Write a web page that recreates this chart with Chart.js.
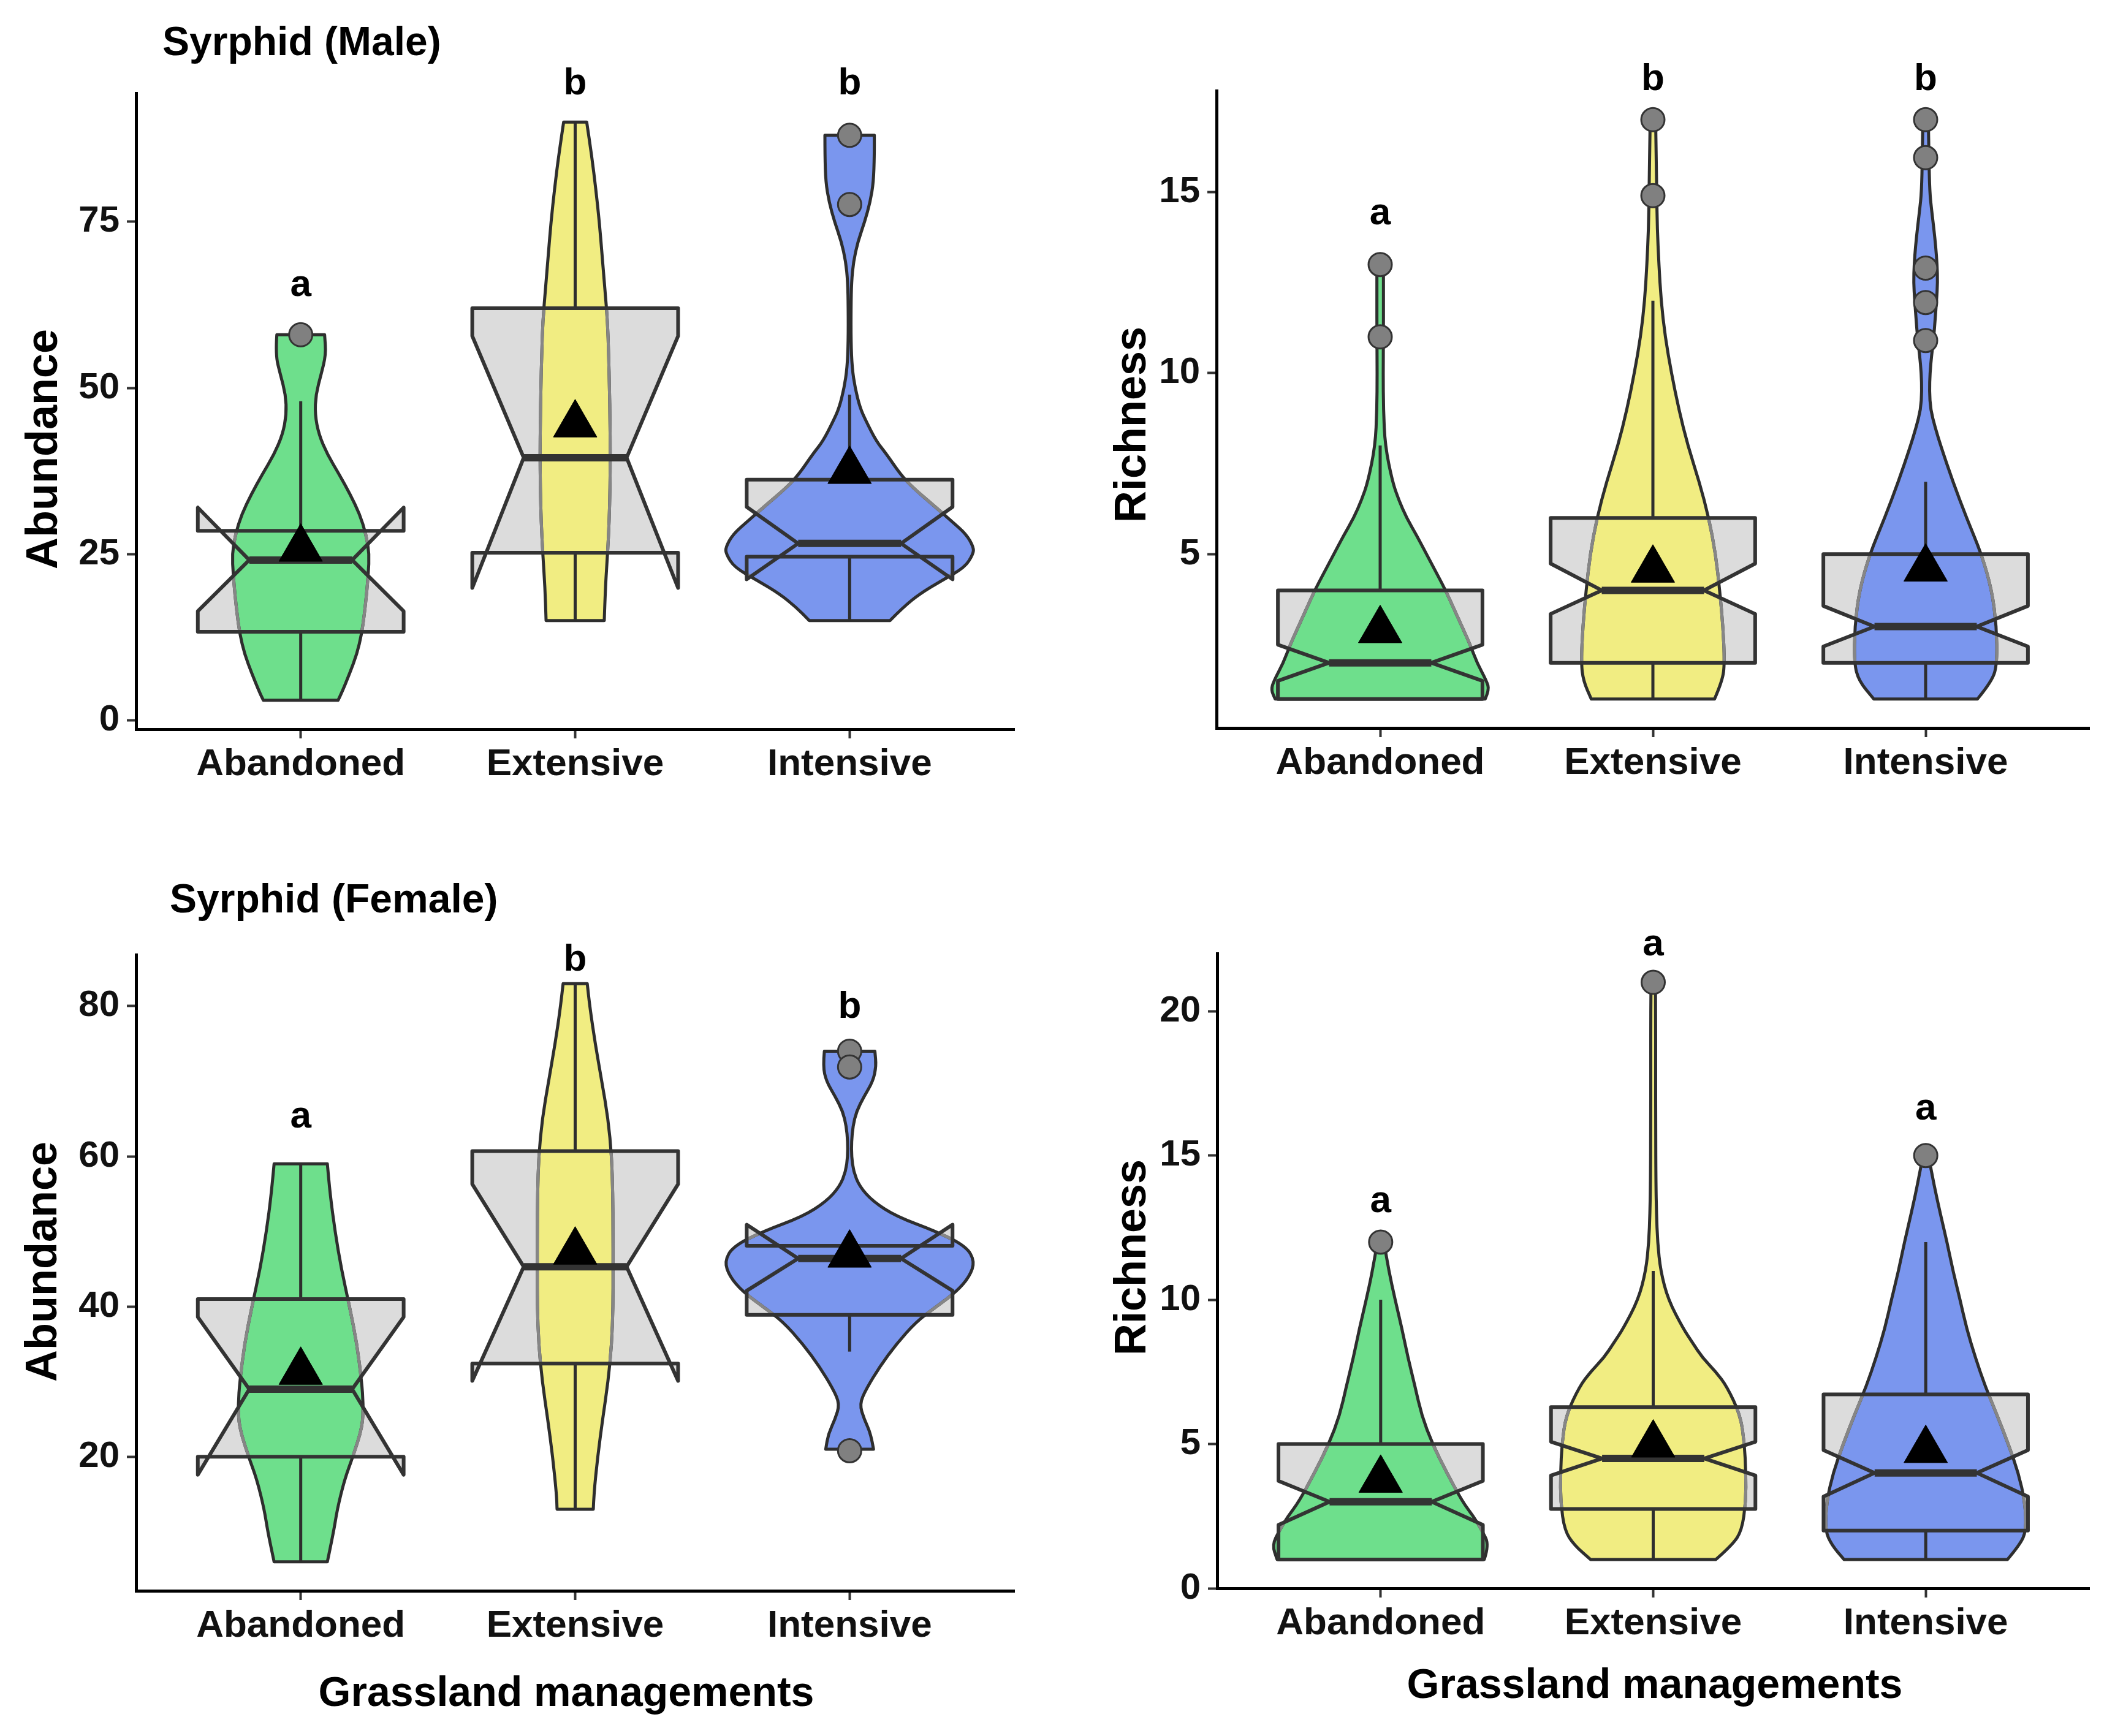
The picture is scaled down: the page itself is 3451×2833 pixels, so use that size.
<!DOCTYPE html>
<html>
<head>
<meta charset="utf-8">
<script src="https://cdn.jsdelivr.net/npm/chart.js@4.4.1/dist/chart.umd.min.js"></script>
<style>
html, body { margin: 0; padding: 0; background: #fff; }
#wrap { position: relative; width: 3451px; height: 2833px; overflow: hidden; background: #fff; }
canvas { position: absolute; }
</style>
</head>
<body>
<div id="wrap">
  <canvas id="c1" width="1725" height="1400" style="left:0px;top:0px"></canvas>
  <canvas id="c2" width="1726" height="1400" style="left:1725px;top:0px"></canvas>
  <canvas id="c3" width="1725" height="1433" style="left:0px;top:1400px"></canvas>
  <canvas id="c4" width="1726" height="1433" style="left:1725px;top:1400px"></canvas>
</div>
<script>
// categories shared by all panels
const categories = ['Abandoned', 'Extensive', 'Intensive'];

// ---- Syrphid (Male) abundance ----
const maleAbTicks = [0, 25, 50, 75];
const maleAbQ1 = [13.3, 25.2, 24.6];
const maleAbMedian = [24.1, 39.5, 26.6];
const maleAbQ3 = [28.5, 62, 36.2];
const maleAbNotchLo = [16.4, 19.9, 21.2];
const maleAbNotchHi = [32, 57.8, 32.1];
const maleAbWhiskerLo = [3, 15, 15];
const maleAbWhiskerHi = [48, 90, 49];
const maleAbMean = [25.8, 44.5, 37.5];
const maleAbOutliers = [[58], [], [88, 77.6]];
const maleAbLetters = ['a', 'b', 'b'];
const maleAbLetterY = [65.4, 95.7, 95.7];
// violin profiles: [value, half width in category units]
const maleAbViolin = [
  [[58, 0.087], [55, 0.092], [52, 0.074], [49, 0.055], [46, 0.052], [43, 0.066], [40, 0.097], [37, 0.14], [34, 0.18], [31, 0.215], [28, 0.238], [25, 0.25], [22, 0.246], [19, 0.24], [16, 0.232], [13, 0.222], [10, 0.205], [7, 0.178], [4, 0.148], [3, 0.136]],
  [[90, 0.042], [85, 0.06], [80, 0.075], [75, 0.088], [70, 0.098], [65, 0.108], [60, 0.118], [55, 0.122], [50, 0.125], [45, 0.127], [40, 0.128], [35, 0.127], [30, 0.124], [25, 0.118], [20, 0.11], [15, 0.106]],
  [[88, 0.09], [85, 0.09], [81, 0.087], [78, 0.075], [75, 0.055], [72, 0.03], [69, 0.014], [66, 0.007], [62, 0.005], [57, 0.005], [53, 0.009], [50, 0.02], [47, 0.038], [45, 0.06], [42, 0.097], [40, 0.135], [37, 0.185], [35, 0.23], [32, 0.315], [30, 0.37], [28, 0.425], [26, 0.452], [25, 0.45], [23, 0.42], [21, 0.335], [19, 0.255], [17, 0.195], [15, 0.147]]
];

// ---- Syrphid (Male) richness ----
const maleRiTicks = [5, 10, 15];
const maleRiQ1 = [1, 2, 2];
const maleRiMedian = [2, 4, 3];
const maleRiQ3 = [4, 6, 5];
const maleRiNotchLo = [1.5, 3.35, 2.45];
const maleRiNotchHi = [2.5, 4.74, 3.57];
const maleRiWhiskerLo = [1, 1, 1];
const maleRiWhiskerHi = [8, 12, 7];
const maleRiMean = [2.9, 4.57, 4.6];
const maleRiOutliers = [[13, 11], [17, 14.9], [17, 15.95, 12.9, 11.95, 10.9]];
const maleRiLetters = ['a', 'b', 'b'];
const maleRiLetterY = [14.4, 18.1, 18.1];
const maleRiViolin = [
  [[13, 0.012], [12, 0.012], [11, 0.012], [10, 0.011], [9, 0.012], [8, 0.018], [7, 0.045], [6.5, 0.068], [6, 0.097], [5.5, 0.135], [5, 0.17], [4.5, 0.205], [4, 0.24], [3.5, 0.27], [3, 0.3], [2.5, 0.33], [2, 0.355], [1.5, 0.39], [1.25, 0.4], [1, 0.385]],
  [[17, 0.01], [16, 0.012], [15, 0.014], [14, 0.016], [13, 0.022], [12, 0.03], [11, 0.045], [10, 0.068], [9, 0.095], [8, 0.128], [7, 0.17], [6, 0.205], [5, 0.23], [4, 0.245], [3, 0.257], [2, 0.263], [1.5, 0.255], [1, 0.226]],
  [[17, 0.01], [16, 0.012], [15, 0.015], [14.5, 0.022], [14, 0.03], [13.5, 0.037], [13, 0.042], [12.5, 0.044], [12, 0.04], [11.5, 0.035], [11, 0.03], [10.5, 0.022], [10, 0.016], [9.5, 0.014], [9, 0.018], [8.5, 0.035], [8, 0.055], [7, 0.1], [6, 0.15], [5, 0.205], [4, 0.243], [3, 0.26], [2, 0.262], [1.5, 0.245], [1, 0.19]]
];

// ---- Syrphid (Female) abundance ----
const femaleAbTicks = [20, 40, 60, 80];
const femaleAbQ1 = [20, 32.4, 38.9];
const femaleAbMedian = [29, 45.3, 46.4];
const femaleAbQ3 = [41, 60.7, 48.1];
const femaleAbNotchLo = [17.6, 30.1, 42.1];
const femaleAbNotchHi = [38.6, 56.3, 50.9];
const femaleAbWhiskerLo = [6, 13, 34];
const femaleAbWhiskerHi = [59, 83, 48.1];
const femaleAbMean = [31.3, 47.3, 46.9];
const femaleAbOutliers = [[], [], [74, 71.9, 20.8]];
const femaleAbLetters = ['a', 'b', 'b'];
const femaleAbLetterY = [65.2, 86.1, 79.8];
const femaleAbViolin = [
  [[59, 0.097], [55, 0.107], [50, 0.125], [45, 0.148], [40, 0.178], [35, 0.205], [30, 0.222], [27, 0.228], [24, 0.225], [20, 0.19], [17, 0.16], [13, 0.133], [10, 0.12], [6, 0.097]],
  [[83, 0.044], [80, 0.053], [75, 0.073], [70, 0.097], [65, 0.12], [60, 0.133], [55, 0.137], [50, 0.138], [45, 0.138], [40, 0.138], [35, 0.133], [30, 0.12], [25, 0.1], [20, 0.082], [15, 0.068], [13, 0.066]],
  [[74, 0.092], [72, 0.097], [70, 0.085], [68, 0.053], [66, 0.025], [64, 0.012], [62, 0.007], [60, 0.007], [58, 0.014], [56, 0.036], [54, 0.085], [52, 0.17], [50, 0.316], [48, 0.425], [46, 0.456], [44, 0.437], [42, 0.39], [40, 0.316], [38, 0.243], [35, 0.17], [32, 0.11], [29, 0.06], [27, 0.036], [25, 0.053], [23, 0.078], [21, 0.087]]
];

// ---- Syrphid (Female) richness ----
const femaleRiTicks = [0, 5, 10, 15, 20];
const femaleRiQ1 = [1, 2.75, 2];
const femaleRiMedian = [3, 4.5, 4];
const femaleRiQ3 = [5, 6.28, 6.72];
const femaleRiNotchLo = [2.2, 3.91, 3.18];
const femaleRiNotchHi = [3.72, 5.08, 4.79];
const femaleRiWhiskerLo = [1, 1, 1];
const femaleRiWhiskerHi = [10, 11, 12];
const femaleRiMean = [3.76, 4.98, 4.79];
const femaleRiOutliers = [[12], [21], [15]];
const femaleRiLetters = ['a', 'a', 'a'];
const femaleRiLetterY = [13.4, 22.3, 16.6];
const femaleRiViolin = [
  [[12, 0.012], [11, 0.03], [10, 0.053], [9, 0.078], [8, 0.1], [7, 0.126], [6, 0.15], [5, 0.19], [4, 0.243], [3, 0.3], [2.5, 0.34], [2, 0.372], [1.5, 0.398], [1, 0.38]],
  [[21, 0.008], [20, 0.009], [18, 0.009], [16, 0.009], [14, 0.01], [13, 0.012], [12, 0.016], [11, 0.027], [10, 0.055], [9, 0.11], [8.5, 0.145], [8, 0.18], [7.5, 0.23], [7, 0.27], [6, 0.32], [5, 0.335], [4, 0.34], [3, 0.34], [2, 0.325], [1.5, 0.29], [1, 0.23]],
  [[15, 0.01], [14, 0.03], [13, 0.053], [12, 0.078], [11, 0.1], [10, 0.126], [9, 0.15], [8, 0.182], [7, 0.218], [6, 0.262], [5, 0.303], [4, 0.34], [3, 0.364], [2, 0.369], [1.5, 0.345], [1, 0.3]]
];

const fillColors = ['#6EDF8C', '#F1ED82', '#7A96EE'];
const FONT = "'Liberation Sans', Arial, sans-serif";
const BOX_HALF = 0.375;      // box width 0.75
const NOTCH_INNER = 0.1875;  // notch width 0.5

function addSide(path, pts) {
  path.lineTo(pts[0][0], pts[0][1]);
  for (let i = 1; i < pts.length - 1; i++) {
    const mx = (pts[i][0] + pts[i + 1][0]) / 2;
    const my = (pts[i][1] + pts[i + 1][1]) / 2;
    path.quadraticCurveTo(pts[i][0], pts[i][1], mx, my);
  }
  const last = pts[pts.length - 1];
  path.lineTo(last[0], last[1]);
}

function violinPath(prof, cx, unit, y) {
  const left = prof.map(([v, w]) => [cx - w * unit, y.getPixelForValue(v)]);
  const right = prof.map(([v, w]) => [cx + w * unit, y.getPixelForValue(v)]).reverse();
  const p = new Path2D();
  p.moveTo(left[0][0], left[0][1]);
  addSide(p, left);
  addSide(p, right);
  p.closePath();
  return p;
}

function boxPath(cx, unit, Y, q1, med, q3, nlo, nhi) {
  const x0 = cx - BOX_HALF * unit, x1 = cx + BOX_HALF * unit;
  const i0 = cx - NOTCH_INNER * unit, i1 = cx + NOTCH_INNER * unit;
  const p = new Path2D();
  p.moveTo(x0, Y(q1));
  p.lineTo(x0, Y(nlo));
  p.lineTo(i0, Y(med));
  p.lineTo(x0, Y(nhi));
  p.lineTo(x0, Y(q3));
  p.lineTo(x1, Y(q3));
  p.lineTo(x1, Y(nhi));
  p.lineTo(i1, Y(med));
  p.lineTo(x1, Y(nlo));
  p.lineTo(x1, Y(q1));
  p.closePath();
  return p;
}

// violins + notched boxes, drawn through the chart scales
const violinBoxPlugin = {
  id: 'violinBox',
  beforeDatasetsDraw(chart) {
    const d = chart.options.plugins.violinBox;
    const { ctx } = chart;
    const x = chart.scales.x, y = chart.scales.y;
    const Y = v => y.getPixelForValue(v);
    const unit = x.getPixelForValue(2) - x.getPixelForValue(1);
    ctx.save();
    ctx.lineJoin = 'round';
    for (let i = 0; i < categories.length; i++) {
      const cx = x.getPixelForValue(i + 1);
      const bp = boxPath(cx, unit, Y, d.q1[i], d.med[i], d.q3[i], d.nlo[i], d.nhi[i]);
      ctx.fillStyle = '#DCDCDC';
      ctx.fill(bp);

      const vp = violinPath(d.violin[i], cx, unit, y);
      ctx.fillStyle = fillColors[i];
      ctx.fill(vp);
      ctx.strokeStyle = '#2e2e2e';
      ctx.lineWidth = 5;
      ctx.stroke(vp);
      ctx.save();
      ctx.clip(bp);
      ctx.strokeStyle = '#868686';
      ctx.stroke(vp);
      ctx.restore();

      // whiskers
      ctx.strokeStyle = '#2e2e2e';
      ctx.lineWidth = 5;
      ctx.beginPath();
      ctx.moveTo(cx, Y(d.q3[i])); ctx.lineTo(cx, Y(d.whHi[i]));
      ctx.moveTo(cx, Y(d.q1[i])); ctx.lineTo(cx, Y(d.whLo[i]));
      ctx.stroke();

      ctx.strokeStyle = '#333333';
      ctx.lineWidth = 6;
      ctx.stroke(bp);

      // median
      ctx.lineWidth = 12;
      ctx.lineCap = 'butt';
      ctx.beginPath();
      ctx.moveTo(cx - NOTCH_INNER * unit, Y(d.med[i]));
      ctx.lineTo(cx + NOTCH_INNER * unit, Y(d.med[i]));
      ctx.stroke();
    }
    ctx.restore();
  }
};

// titles, axis titles and group letters
const textPlugin = {
  id: 'panelText',
  afterDraw(chart) {
    const t = chart.options.plugins.panelText;
    const { ctx } = chart;
    const x = chart.scales.x, y = chart.scales.y;
    ctx.save();
    ctx.fillStyle = '#000';
    ctx.textBaseline = 'middle';
    if (t.title) {
      ctx.font = 'bold 66px ' + FONT;
      ctx.textAlign = 'left';
      ctx.fillText(t.title, t.titleX, t.titleY);
    }
    ctx.font = 'bold 62px ' + FONT;
    ctx.textAlign = 'center';
    t.letters.forEach((l, i) => {
      ctx.fillText(l, x.getPixelForValue(i + 1), y.getPixelForValue(t.letterY[i]));
    });
    if (t.xTitle) {
      ctx.font = 'bold 68px ' + FONT;
      ctx.fillText(t.xTitle, t.xTitleX, t.xTitleY);
    }
    ctx.translate(t.yTitleX, t.yTitleY);
    ctx.rotate(-Math.PI / 2);
    ctx.font = 'bold 72px ' + FONT;
    ctx.fillText(t.yTitle, 0, 0);
    ctx.restore();
  }
};

function makePanel(cfg) {
  const canvas = document.getElementById(cfg.id);
  const meanPts = cfg.mean.map((m, i) => ({ x: i + 1, y: m }));
  const outPts = [];
  cfg.outliers.forEach((arr, i) => arr.forEach(v => outPts.push({ x: i + 1, y: v })));
  new Chart(canvas.getContext('2d'), {
    type: 'scatter',
    data: {
      datasets: [
        { data: meanPts, pointStyle: 'triangle', pointRadius: 41, backgroundColor: '#000', borderColor: '#000', borderWidth: 1, order: 1, clip: false },
        { data: outPts, pointStyle: 'circle', pointRadius: 19, backgroundColor: '#808080', borderColor: '#333', borderWidth: 3, order: 2, clip: false }
      ]
    },
    options: {
      responsive: false,
      devicePixelRatio: 1,
      animation: false,
      layout: { padding: cfg.padding },
      plugins: {
        legend: { display: false },
        tooltip: { enabled: false },
        violinBox: {
          q1: cfg.q1, med: cfg.med, q3: cfg.q3, nlo: cfg.nlo, nhi: cfg.nhi,
          whLo: cfg.whLo, whHi: cfg.whHi, violin: cfg.violin
        },
        panelText: cfg.text
      },
      scales: {
        x: {
          type: 'linear', min: 0.4, max: 3.6,
          afterBuildTicks: s => { s.ticks = categories.map((c, i) => ({ value: i + 1 })); },
          afterFit: s => { s.height = 120; },
          ticks: {
            callback: v => categories[v - 1], autoSkip: false, maxRotation: 0,
            color: '#111', padding: 6, font: { family: FONT, size: 62, weight: 'bold' }
          },
          grid: { drawOnChartArea: false, drawTicks: true, tickLength: 15, tickColor: '#333', tickWidth: 4 },
          border: { display: true, color: '#000', width: 5 }
        },
        y: {
          type: 'linear', min: cfg.yMin, max: cfg.yMax,
          afterBuildTicks: s => { s.ticks = cfg.yTicks.map(v => ({ value: v })); },
          afterFit: s => { s.width = 200; },
          ticks: { color: '#111', padding: 12, font: { family: FONT, size: 60, weight: 'bold' } },
          grid: { drawOnChartArea: false, drawTicks: true, tickLength: 15, tickColor: '#333', tickWidth: 4 },
          border: { display: true, color: '#000', width: 5 }
        }
      }
    },
    plugins: [violinBoxPlugin, textPlugin]
  });
}

makePanel({
  id: 'c1', padding: { left: 22, top: 152, right: 70, bottom: 90 },
  yMin: -1.35, yMax: 94.35, yTicks: maleAbTicks,
  q1: maleAbQ1, med: maleAbMedian, q3: maleAbQ3, nlo: maleAbNotchLo, nhi: maleAbNotchHi,
  whLo: maleAbWhiskerLo, whHi: maleAbWhiskerHi, violin: maleAbViolin,
  mean: maleAbMean, outliers: maleAbOutliers,
  text: { title: 'Syrphid (Male)', titleX: 265, titleY: 72, letters: maleAbLetters, letterY: maleAbLetterY,
          yTitle: 'Abundance', yTitleX: 73, yTitleY: 733 }
});

makePanel({
  id: 'c2', padding: { left: 60, top: 148, right: 21, bottom: 92 },
  yMin: 0.2, yMax: 17.8, yTicks: maleRiTicks,
  q1: maleRiQ1, med: maleRiMedian, q3: maleRiQ3, nlo: maleRiNotchLo, nhi: maleRiNotchHi,
  whLo: maleRiWhiskerLo, whHi: maleRiWhiskerHi, violin: maleRiViolin,
  mean: maleRiMean, outliers: maleRiOutliers,
  text: { letters: maleRiLetters, letterY: maleRiLetterY,
          yTitle: 'Richness', yTitleX: 1849 - 1725, yTitleY: 693 }
});

makePanel({
  id: 'c3', padding: { left: 22, top: 158, right: 70, bottom: 117 },
  yMin: 2.15, yMax: 86.85, yTicks: femaleAbTicks,
  q1: femaleAbQ1, med: femaleAbMedian, q3: femaleAbQ3, nlo: femaleAbNotchLo, nhi: femaleAbNotchHi,
  whLo: femaleAbWhiskerLo, whHi: femaleAbWhiskerHi, violin: femaleAbViolin,
  mean: femaleAbMean, outliers: femaleAbOutliers,
  text: { title: 'Syrphid (Female)', titleX: 277, titleY: 71, letters: femaleAbLetters, letterY: femaleAbLetterY,
          yTitle: 'Abundance', yTitleX: 72, yTitleY: 2059 - 1400,
          xTitle: 'Grassland managements', xTitleX: 924, xTitleY: 2765 - 1400 }
});

makePanel({
  id: 'c4', padding: { left: 61, top: 156, right: 19, bottom: 121 },
  yMin: 0, yMax: 22, yTicks: femaleRiTicks,
  q1: femaleRiQ1, med: femaleRiMedian, q3: femaleRiQ3, nlo: femaleRiNotchLo, nhi: femaleRiNotchHi,
  whLo: femaleRiWhiskerLo, whHi: femaleRiWhiskerHi, violin: femaleRiViolin,
  mean: femaleRiMean, outliers: femaleRiOutliers,
  text: { letters: femaleRiLetters, letterY: femaleRiLetterY,
          yTitle: 'Richness', yTitleX: 1849 - 1725, yTitleY: 2052 - 1400,
          xTitle: 'Grassland managements', xTitleX: 2700 - 1725, xTitleY: 2752 - 1400 }
});
</script>
</body>
</html>
